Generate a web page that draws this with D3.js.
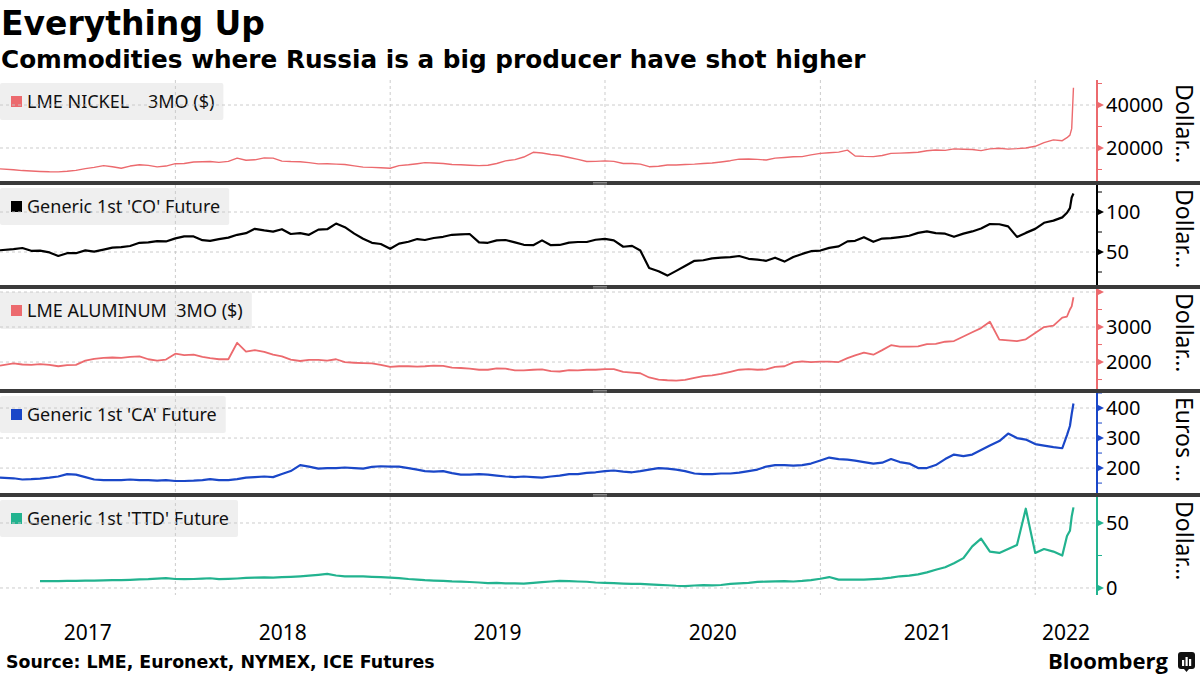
<!DOCTYPE html>
<html><head><meta charset="utf-8">
<script src="https://cdn.jsdelivr.net/npm/d3@7"></script>
<style>
html,body{margin:0;padding:0;background:#fff;}
svg{display:block;}
</style></head><body>
<svg id="c" width="1200" height="675"></svg>
<script>
// ---------------- DATA ----------------
const dates = [
"2017-03-09",
"2017-04-01","2017-04-16","2017-05-01","2017-05-16","2017-06-01","2017-06-16","2017-07-01","2017-07-16","2017-08-01","2017-08-16","2017-09-01","2017-09-16","2017-10-01","2017-10-16","2017-11-01","2017-11-16","2017-12-01","2017-12-16",
"2018-01-01","2018-01-16","2018-02-01","2018-02-16","2018-03-01","2018-03-16","2018-04-01","2018-04-16","2018-05-01","2018-05-16","2018-06-01","2018-06-16","2018-07-01","2018-07-16","2018-08-01","2018-08-16","2018-09-01","2018-09-16","2018-10-01","2018-10-16","2018-11-01","2018-11-16","2018-12-01","2018-12-16",
"2019-01-01","2019-01-16","2019-02-01","2019-02-16","2019-03-01","2019-03-16","2019-04-01","2019-04-16","2019-05-01","2019-05-16","2019-06-01","2019-06-16","2019-07-01","2019-07-16","2019-08-01","2019-08-16","2019-09-01","2019-09-16","2019-10-01","2019-10-16","2019-11-01","2019-11-16","2019-12-01","2019-12-16",
"2020-01-01","2020-01-16","2020-02-01","2020-02-16","2020-03-01","2020-03-16","2020-04-01","2020-04-16","2020-05-01","2020-05-16","2020-06-01","2020-06-16","2020-07-01","2020-07-16","2020-08-01","2020-08-16","2020-09-01","2020-09-16","2020-10-01","2020-10-16","2020-11-01","2020-11-16","2020-12-01","2020-12-16",
"2021-01-01","2021-01-16","2021-02-01","2021-02-16","2021-03-01","2021-03-16","2021-04-01","2021-04-16","2021-05-01","2021-05-16","2021-06-01","2021-06-16","2021-07-01","2021-07-16","2021-08-01","2021-08-16","2021-09-01","2021-09-16","2021-10-01","2021-10-16","2021-11-01","2021-11-16","2021-12-01","2021-12-16",
"2022-01-01","2022-01-16","2022-02-01","2022-02-16","2022-02-24","2022-03-01","2022-03-04","2022-03-07"
];

const nickel = [10300,
 9900,9500, 9300,9100, 8950,8900, 9200,9600, 10400,11000, 11800,11300, 10600,11600, 12200,11900, 11200,11600,
 12700,12800, 13500,13600, 13700,13300, 13800,15300, 14300,14500, 15400,15300, 13900,13700, 13600,13200, 12600,12700, 12500,12300, 11700,11100, 11000,10800,
 10600,11800, 12200,12700, 13200,13000, 12800,12300, 12200,12000, 11800,12000, 12800,14000, 14600,15800, 18000,17700, 17000,16500, 15600,14700, 13700,13800,
 14000,13800, 12800,12800, 12500,11300, 11500,12100, 12100,12300, 12500,12800, 13000,13500, 14100,14800, 14900,14700, 14400,15300, 15600,15900, 16000,16800,
 17500,17800, 18100,19000, 16300,16100, 16000,16500, 17500,17600, 17800,18000, 18700,19100, 18900,19600, 19400,19300, 18800,19600, 19900,19500, 19700,20000,
 20800,22500, 23800,23400, 24800, 26000, 29000, 48000];

const brent = [52.2,
 53.5,55.0, 51.5,51.8, 49.5,45.0, 48.5,48.5, 52.0,50.5, 53.0,55.5, 56.0,57.5, 61.5,62.0, 63.5,63.2,
 67.0,69.5, 69.5,64.8, 64.0,66.0, 68.0,71.5, 73.5,79.0, 77.0,75.5, 78.5,72.5, 73.5,71.5, 78.0,78.5, 85.5,81.0, 73.0,66.5, 61.5,60.0,
 54.0,60.5, 62.8,66.2, 65.0,67.5, 69.0,71.5, 72.0,72.5, 62.0,61.5, 64.5,65.0, 62.0,59.0, 58.5,64.5, 58.5,58.8, 61.7,62.5, 62.5,65.3,
 66.3,64.6, 56.6,57.7, 51.9,30.0, 26.0,20.5, 26.4,32.5, 39.0,39.7, 42.0,43.0, 43.6,45.0, 41.5,40.5, 39.0,42.9, 38.0,43.8, 47.6,51.0,
 51.8,55.1, 57.0,63.3, 64.0,68.5, 62.7,66.8, 67.3,68.7, 70.3,73.9, 75.8,73.6, 72.9,69.0, 73.0,75.7, 79.3,84.9, 84.7,82.0, 68.9,73.9,
 78.9,86.5, 89.2,93.3, 99.1, 104.9, 118.1, 123.2];

const aluminum = [1900,
 1960,1930, 1920,1940, 1920,1880, 1910,1920, 2040,2090, 2120,2130, 2120,2150, 2160,2080, 2040,2070,
 2240,2200, 2210,2150, 2110,2080, 2080,2550, 2300,2340, 2290,2210, 2160,2070, 2030,2060, 2060,2040, 2080,2000, 1980,1970, 1960,1920,
 1860,1880, 1880,1870, 1880,1900, 1890,1840, 1830,1810, 1780,1780, 1820,1810, 1760,1760, 1780,1790, 1740,1730, 1770,1760, 1780,1780,
 1800,1800, 1720,1700, 1680,1560, 1500,1480, 1470,1490, 1550,1600, 1620,1660, 1720,1780, 1800,1780, 1790,1860, 1880,1990, 2020,2000,
 2010,2010, 2000,2110, 2190,2270, 2210,2340, 2480,2440, 2440,2450, 2510,2520, 2580,2600, 2730,2850, 2970,3150, 2640,2620, 2600,2650,
 2830,3000, 3040,3270, 3300, 3500, 3590, 3850];

const wheat = [168,
 166,162, 163,165, 168,172, 180,178, 170,162, 160,160, 160,162, 160,160, 158,160,
 157,157, 158,160, 163,160, 160,163, 168,170, 172,170, 180,190, 210,205, 198,200, 200,202, 200,198, 204,206,
 205,205, 200,195, 190,188, 190,183, 178,178, 180,178, 175,172, 170,172, 170,168, 172,175, 180,180, 184,186,
 190,192, 188,186, 190,195, 200,198, 195,190, 182,180, 180,182, 182,185, 190,195, 205,210, 210,208, 210,215,
 225,235, 230,228, 225,220, 215,218, 230,220, 215,200, 200,210, 230,245, 240,245, 260,275, 290,315, 300,295,
 280,275, 270,266, 310, 340, 380, 415];

const ttf = [null,
 null,null, null,5.3, 5.3,5.3, 5.4,5.5, 5.6,5.7, 5.9,6.0, 6.1,6.3, 6.6,6.8, 7.2,7.6,
 6.9,6.8, 6.9,7.2, 7.5,6.8, 7.0,7.3, 7.7,8.0, 8.1,7.9, 8.3,8.6, 9.0,9.5, 10.1,10.8, 9.6,9.0, 9.0,8.9, 8.6,8.3,
 8.0,7.6, 6.9,6.4, 6.0,5.7, 5.5,5.1, 4.9,4.6, 4.2,3.7, 3.9,3.6, 3.5,3.4, 4.0,4.5, 5.0,5.4, 5.2,5.0, 4.8,4.2,
 4.0,3.7, 3.4,3.2, 3.2,2.8, 2.4,2.1, 1.7,1.5, 1.9,2.2, 2.0,2.3, 3.1,3.5, 4.0,4.7, 4.9,5.1, 5.2,5.0, 5.4,6.0,
 7.1,8.4, 6.4,6.5, 6.5,6.5, 6.8,7.2, 8.0,9.0, 9.5,10.5, 12.0,14.0, 16.0,19.0, 23.0,32.0, 38.0,28.0, 27.0,30.0, 33.0,61.0,
 27.0,30.0, 28.0,25.0, 40.0, 44.0, 55.0, 62.0];

const seriesNames = ["LME NICKEL    3MO ($)", "Generic 1st 'CO' Future", "LME ALUMINUM  3MO ($)", "Generic 1st 'CA' Future", "Generic 1st 'TTD' Future"];
const unitLabels = ["Dollar\u2026", "Dollar\u2026", "Dollar\u2026", "Euros \u2026", "Dollar\u2026"];

const nickelDomain = [4650, 51630], nickelMajor = [20000, 40000], nickelMinor = [10000, 30000, 50000];
const brentDomain = [8.75, 133.75], brentMajor = [50, 100], brentMinor = [25, 75, 125];
const aluDomain = [1230, 4086], aluMajor = [2000, 3000, 4000], aluMinor = [1500, 2500, 3500];
const wheatDomain = [117, 450], wheatMajor = [200, 300, 400], wheatMinor = [150, 250, 350, 450];
const ttfDomain = [-5.4, 70], ttfMajor = [0, 50], ttfMinor = [25];

const yearLabels = ["2017", "2018", "2019", "2020", "2021", "2022"];
const xDomain = ["2017-03-09", "2022-04-16"];

const titleText = "Everything Up";
const subtitleText = "Commodities where Russia is a big producer have shot higher";
const sourceText = "Source: LME, Euronext, NYMEX, ICE Futures";

// ---------------- LAYOUT / STYLE ----------------
const W = 1200, H = 675;
const plotLeft = 0, axisX = 1097;
const panelBounds = [[80, 181], [185, 285], [289, 389], [393, 493], [497, 595]];
const colors = ["#ec6a6e", "#000000", "#ec6a6e", "#1a47c8", "#22b38f"];
const widths = [1.4, 2.2, 1.8, 2.2, 2.2];
const FONT = "'Noto Sans', 'Open Sans', sans-serif";
const BOLD = "'DejaVu Sans', Verdana, sans-serif";

const panelData = [
  {vals: nickel, domain: nickelDomain, major: nickelMajor, minor: nickelMinor},
  {vals: brent, domain: brentDomain, major: brentMajor, minor: brentMinor},
  {vals: aluminum, domain: aluDomain, major: aluMajor, minor: aluMinor},
  {vals: wheat, domain: wheatDomain, major: wheatMajor, minor: wheatMinor},
  {vals: ttf, domain: ttfDomain, major: ttfMajor, minor: ttfMinor}
];

const parse = d3.utcParse("%Y-%m-%d");
const parsedDates = dates.map(parse);
const x = d3.scaleUtc().domain(xDomain.map(parse)).range([plotLeft, axisX]);

const svg = d3.select("#c");
svg.append("rect").attr("width", W).attr("height", H).attr("fill", "#fff");

function fitWidth(sel, target) {
  const w = sel.node().getComputedTextLength();
  const fs = parseFloat(sel.attr("font-size"));
  sel.attr("font-size", (fs * target / w).toFixed(2));
}

// Title / subtitle
const t1 = svg.append("text").attr("x", 1).attr("y", 35).attr("font-family", BOLD).attr("font-weight", 700)
  .attr("font-size", 33).attr("fill", "#000").text(titleText);
fitWidth(t1, 264);
const t2 = svg.append("text").attr("x", 1).attr("y", 68).attr("font-family", BOLD).attr("font-weight", 700)
  .attr("font-size", 22).attr("fill", "#000").text(subtitleText);
fitWidth(t2, 865);

const defs = svg.append("defs");
const yearTicks = d3.utcYear.range(x.domain()[0], x.domain()[1]).filter(d => d > x.domain()[0]);

panelData.forEach((p, i) => {
  const [top, bottom] = panelBounds[i];
  const y = d3.scaleLinear().domain(p.domain).range([bottom, top]);
  const g = svg.append("g");

  // legend box (under gridlines)
  const lg = g.append("g");
  const lt = lg.append("text").attr("x", 27).attr("y", top + 28).attr("font-family", FONT)
    .attr("font-size", 18).attr("fill", "#111").style("white-space", "pre").text(seriesNames[i]);
  const tw = lt.node().getComputedTextLength();
  lg.insert("rect", "text").attr("x", 0).attr("y", top + 3).attr("width", 27 + tw + 9).attr("height", 37)
    .attr("rx", 2).attr("fill", "#efefef");
  lg.append("rect").attr("x", 11).attr("y", top + 16).attr("width", 11).attr("height", 11).attr("fill", colors[i]);

  // gridlines
  g.selectAll(".hg").data(p.major).join("line")
    .attr("x1", plotLeft).attr("x2", axisX).attr("y1", d => y(d)).attr("y2", d => y(d))
    .attr("stroke", "#c8c8c8").attr("stroke-width", 1).attr("stroke-dasharray", "3,3").attr("opacity", 0.9);
  g.selectAll(".vg").data(yearTicks).join("line")
    .attr("x1", d => x(d)).attr("x2", d => x(d)).attr("y1", top).attr("y2", bottom)
    .attr("stroke", "#c8c8c8").attr("stroke-width", 1).attr("stroke-dasharray", "3,3").attr("opacity", 0.9);

  // line
  const cid = "clip" + i;
  defs.append("clipPath").attr("id", cid).append("rect").attr("x", plotLeft).attr("y", top).attr("width", axisX - plotLeft).attr("height", bottom - top);
  const line = d3.line().defined(d => d[1] != null).x(d => x(d[0])).y(d => y(d[1]));
  g.append("path").attr("clip-path", `url(#${cid})`)
    .datum(parsedDates.map((d, k) => [d, p.vals[k]]))
    .attr("d", line).attr("fill", "none").attr("stroke", colors[i]).attr("stroke-width", widths[i])
    .attr("stroke-linejoin", "round");

  // right axis
  g.append("line").attr("x1", axisX).attr("x2", axisX).attr("y1", top).attr("y2", bottom)
    .attr("stroke", colors[i]).attr("stroke-width", 2);
  g.selectAll(".mn").data(p.minor.filter(v => y(v) >= top && y(v) <= bottom)).join("line")
    .attr("x1", axisX).attr("x2", axisX + 5).attr("y1", d => y(d)).attr("y2", d => y(d))
    .attr("stroke", colors[i]).attr("stroke-width", 1);
  g.selectAll(".mj").data(p.major).join("path")
    .attr("d", d => `M${axisX},${y(d) - 3.5}L${axisX + 7},${y(d)}L${axisX},${y(d) + 3.5}Z`)
    .attr("fill", colors[i]);
  g.selectAll(".tl").data(p.major.filter(v => y(v) > top + 9)).join("text")
    .attr("x", axisX + 9).attr("y", d => y(d)).attr("dy", "0.36em")
    .attr("font-family", FONT).attr("font-size", 20).attr("fill", "#000").text(d => d);

  // unit title (rotated)
  g.append("text").attr("transform", `translate(1176,${top + 4}) rotate(90)`)
    .attr("font-family", FONT).attr("font-size", 23).attr("fill", "#000").style("white-space", "pre")
    .text(unitLabels[i]);
});

// separators
for (let i = 0; i < panelBounds.length - 1; i++) {
  const yy = panelBounds[i][1];
  svg.append("rect").attr("x", 0).attr("y", yy).attr("width", W).attr("height", 4).attr("fill", "#3a3a3a");
  svg.append("line").attr("x1", 593).attr("x2", 607).attr("y1", yy + 1.5).attr("y2", yy + 1.5).attr("stroke", "#9a9a9a").attr("stroke-width", 0.8);
  svg.append("line").attr("x1", 593).attr("x2", 607).attr("y1", yy + 3).attr("y2", yy + 3).attr("stroke", "#9a9a9a").attr("stroke-width", 0.8);
}

// x axis year labels
const [d0, d1] = x.domain();
svg.selectAll(".yl").data(yearLabels).join("text")
  .attr("x", d => {
    const s = new Date(Date.UTC(+d, 0, 1)), e = new Date(Date.UTC(+d + 1, 0, 1));
    return (x(s < d0 ? d0 : s) + x(e > d1 ? d1 : e)) / 2;
  })
  .attr("y", 640).attr("text-anchor", "middle").attr("font-family", FONT).attr("font-size", 21).attr("fill", "#000")
  .text(d => d);

// footer
const src = svg.append("text").attr("x", 6).attr("y", 668).attr("font-family", BOLD).attr("font-weight", 700)
  .attr("font-size", 16).attr("fill", "#000").text(sourceText);
fitWidth(src, 429);
const bb = svg.append("text").attr("x", 1048).attr("y", 669).attr("font-family", "'Open Sans', 'Noto Sans', sans-serif").attr("font-weight", 700)
  .attr("font-size", 20).attr("fill", "#000").text("Bloomberg");
fitWidth(bb, 120);
const ic = svg.append("g").attr("transform", "translate(1178,652)");
ic.append("rect").attr("width", 17).attr("height", 17).attr("rx", 3).attr("fill", "#111");
ic.append("path").attr("d", "M6,17L8.5,20L11,17Z").attr("fill", "#111");
[[4, 8, 6], [7.5, 5, 9], [11, 7, 7]].forEach(([bx, by, bh]) =>
  ic.append("rect").attr("x", bx).attr("y", by).attr("width", 2.2).attr("height", bh).attr("fill", "#fff"));
</script>
</body></html>
